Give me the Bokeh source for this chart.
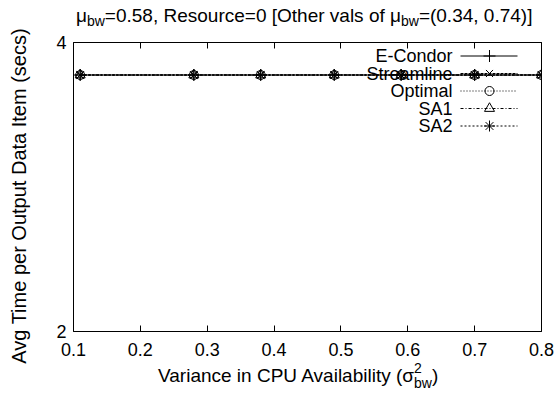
from bokeh.plotting import figure
from bokeh.layouts import column, row
from bokeh.models import (Label, LinearAxis, LogAxis, FixedTicker, Range1d,
                          PrintfTickFormatter, CustomJSTickFormatter,
                          ColumnDataSource, Div)
from bokeh.embed import file_html
from bokeh.resources import INLINE

# ---------------- data ----------------
variance = [0.11, 0.28, 0.38, 0.49, 0.59, 0.70, 0.80]
e_condor = [3.70, 3.70, 3.70, 3.70, 3.70, 3.70, 3.70]
streamline = [3.70, 3.70, 3.70, 3.70, 3.70, 3.70, 3.70]
optimal = [3.70, 3.70, 3.70, 3.70, 3.70, 3.70, 3.70]
sa1 = [3.70, 3.70, 3.70, 3.70, 3.70, 3.70, 3.70]
sa2 = [3.70, 3.70, 3.70, 3.70, 3.70, 3.70, 3.70]
series_names = ["E-Condor", "Streamline", "Optimal", "SA1", "SA2"]
x_ticks = [0.1, 0.2, 0.3, 0.4, 0.5, 0.6, 0.7, 0.8]
y_ticks = [2, 4]
mu_bw = "0.58"
resource = "0"
other_mu_bw = "(0.34, 0.74)"
y_label = "Avg Time per Output Data Item (secs)"

FONT = "Liberation Sans"

# ---------------- layout ----------------
PAGE_W, PAGE_H = 559, 398
YLAB_W = 30
W = PAGE_W - YLAB_W
TITLE_H, XLAB_H = 34, 35
FIG_H = PAGE_H - TITLE_H - XLAB_H
L, R, T, B = 73 - YLAB_W, 18, 8, 32
FW, FH = W - L - R, FIG_H - T - B
X0, X1 = 0.1, 0.8
Y0, Y1 = 2.0, 4.0


def px_x(px):  # px measured from the left of the whole page
    return X0 + (px - YLAB_W - L) * (X1 - X0) / FW


def px_y(py):  # py measured from the top of the whole page
    return Y0 * (Y1 / Y0) ** ((TITLE_H + T + FH - py) / FH)


p = figure(width=W, height=FIG_H, output_backend="svg", toolbar_location=None,
           x_range=Range1d(X0, X1), y_range=Range1d(Y0, Y1), y_axis_type="log",
           min_border_left=L, min_border_right=R, min_border_top=T,
           min_border_bottom=B, margin=0)
p.outline_line_color = "black"
p.outline_line_width = 1
p.xgrid.grid_line_color = None
p.ygrid.grid_line_color = None
p.background_fill_color = "white"
p.border_fill_color = "white"

xt = FixedTicker(ticks=x_ticks)
yt = FixedTicker(ticks=y_ticks)


def style_axis(ax):
    ax.axis_line_color = None
    ax.major_tick_in = 6
    ax.major_tick_out = 0
    ax.major_tick_line_color = "black"
    ax.minor_tick_line_color = None
    ax.major_label_text_font = FONT
    ax.major_label_text_font_size = "18px"
    ax.major_label_text_color = "black"


xa = p.xaxis[0]
xa.ticker = xt
xa.formatter = PrintfTickFormatter(format="%.1f")
style_axis(xa)
xa.major_label_standoff = 11

ya = p.yaxis[0]
ya.ticker = yt
ya.formatter = PrintfTickFormatter(format="%d")
style_axis(ya)
ya.major_label_standoff = 7

blank = CustomJSTickFormatter(code="return ''")

top_ax = LinearAxis(ticker=xt, formatter=blank)
style_axis(top_ax)
top_ax.major_label_text_font_size = "1px"
top_ax.major_label_standoff = 0
p.add_layout(top_ax, "above")

right_ax = LogAxis(ticker=yt, formatter=blank)
style_axis(right_ax)
right_ax.major_label_text_font_size = "1px"
right_ax.major_label_standoff = 0
p.add_layout(right_ax, "right")

# ---------------- series ----------------
styles = [
    ("cross", "solid", 12, e_condor),
    ("x", "3 1", 10, streamline),
    ("circle", "1 2", 9, optimal),
    ("triangle", "3 2 1 2", 10, sa1),
    ("asterisk", "2 2", 11, sa2),
]

for (marker, dash, size, ys), name in zip(styles, series_names):
    src = ColumnDataSource(data=dict(x=variance, y=ys))
    p.line("x", "y", source=src, line_color="black", line_width=1, line_dash=dash)
    p.scatter("x", "y", source=src, marker=marker, size=size,
              line_color="black", fill_color=None, line_width=1)

# ---------------- legend (gnuplot style: label then sample) ----------------
leg_text_x = 452
leg_l0, leg_l1, leg_m = 460, 517, 489
leg_y0, leg_dy = 55.5, 17.5
for i, ((marker, dash, size, _), name) in enumerate(zip(styles, series_names)):
    yy = px_y(leg_y0 + i * leg_dy)
    p.add_layout(Label(x=px_x(leg_text_x), y=yy, text=name, text_align="right",
                       text_baseline="middle", text_font=FONT,
                       text_font_size="18px", text_color="black"))
    p.line([px_x(leg_l0), px_x(leg_l1)], [yy, yy], line_color="black",
           line_width=1, line_dash=dash)
    p.scatter([px_x(leg_m)], [yy], marker=marker, size=size,
              line_color="black", fill_color=None, line_width=1)

# ---------------- title, axis labels (HTML, with sub/superscripts) ----------------
base = ("font-family:'Liberation Sans',Arial,sans-serif; font-size:19px; "
        "line-height:20px; white-space:nowrap; color:black;")
sub = "font-size:14px; position:relative; top:4px;"

title_html = (
    f'<div style="{base} padding:6px 0 0 {76 - YLAB_W}px;">'
    f'\u03bc<span style="{sub}">bw</span>={mu_bw}, Resource={resource} '
    f'[Other vals of \u03bc<span style="{sub}">bw</span>={other_mu_bw}]</div>'
)
xlab_html = (
    f'<div style="{base} padding:3px 0 0 {158 - YLAB_W}px;">'
    'Variance in CPU Availability (\u03c3'
    '<span style="font-size:14px; position:relative; top:-9px;">2</span>'
    '<span style="font-size:14px; position:relative; top:6px; margin-left:-7.8px;">bw</span>'
    ')</div>'
)
ylab_html = (
    f'<div style="position:relative; width:{YLAB_W}px; height:{PAGE_H}px;">'
    '<div style="position:absolute; left:19px; top:196px; '
    'transform:translate(-50%,-50%) rotate(-90deg); '
    "font-family:'Liberation Sans',Arial,sans-serif; font-size:20px; "
    f'line-height:22px; white-space:nowrap; color:black;">{y_label}</div></div>'
)

title_div = Div(text=title_html, width=W, height=TITLE_H, margin=0)
xlab_div = Div(text=xlab_html, width=W, height=XLAB_H, margin=0)
ylab_div = Div(text=ylab_html, width=YLAB_W, height=PAGE_H, margin=0)

layout = row(ylab_div, column(title_div, p, xlab_div, spacing=0, margin=0),
             spacing=0, margin=0)

open("out.html", "w").write(file_html(layout, INLINE))
